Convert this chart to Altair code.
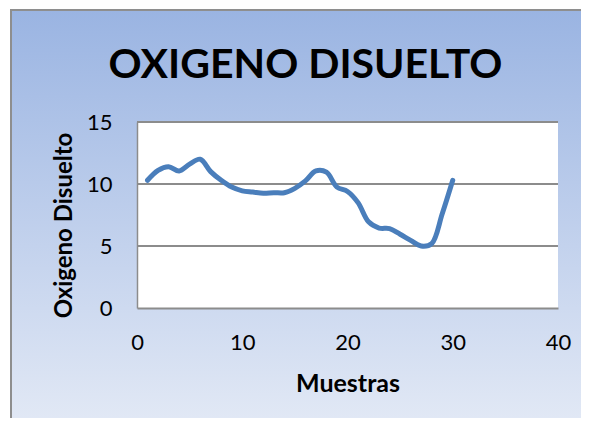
import altair as alt
import pandas as pd

muestras = list(range(1, 31))
oxigeno = [10.3, 11.1, 11.4, 11.05, 11.6, 12.0, 11.0, 10.3, 9.75, 9.45,
           9.35, 9.25, 9.3, 9.3, 9.65, 10.25, 11.05, 10.95, 9.75, 9.4,
           8.5, 6.95, 6.45, 6.4, 5.95, 5.45, 5.0, 5.2, 7.6, 10.3]
x_ticks = [0, 10, 20, 30, 40]
y_ticks = [0, 5, 10, 15]
grid_values = [5, 10, 15]

W, H = 421, 186
FONT = "Lato"
BORDER = "#8e8e8e"

df = pd.DataFrame({"Muestras": muestras, "Oxigeno": oxigeno})
grid_df = pd.DataFrame({"Oxigeno": grid_values})
one = pd.DataFrame({"a": [0]})

bg = alt.Chart(one).mark_rect(
    color=alt.Gradient(
        gradient="linear",
        stops=[alt.GradientStop(color="#9ab4e2", offset=0),
               alt.GradientStop(color="#e1e8f5", offset=1)],
        x1=0, x2=0, y1=0, y2=1),
).encode(x=alt.value(-126), x2=alt.value(444), y=alt.value(-112), y2=alt.value(296))

border_left = alt.Chart(one).mark_rule(color=BORDER, strokeWidth=2).encode(
    x=alt.value(-126), y=alt.value(-113), y2=alt.value(296))
border_top = alt.Chart(one).mark_rule(color=BORDER, strokeWidth=2).encode(
    x=alt.value(-127), x2=alt.value(444), y=alt.value(-112))

white = alt.Chart(one).mark_rect(color="white").encode(
    x=alt.value(0), x2=alt.value(W), y=alt.value(0), y2=alt.value(H))

grid = alt.Chart(grid_df).mark_rule(color="#8c8c8c", strokeWidth=2).encode(
    y=alt.Y("Oxigeno:Q"))

line = alt.Chart(df).mark_line(
    color="#4a7ebb", strokeWidth=5, interpolate="catmull-rom",
    strokeCap="round", strokeJoin="round",
).encode(
    x=alt.X("Muestras:Q",
            scale=alt.Scale(domain=[0, 40], nice=False),
            axis=alt.Axis(values=x_ticks, grid=False, ticks=False, zindex=1,
                          domainColor="#8c8c8c", domainWidth=2,
                          labelFont=FONT, labelFontSize=22, labelColor="black",
                          labelPadding=24, labelFlush=False,
                          title="Muestras", titleFont=FONT, titleFontSize=25,
                          titleFontWeight="bold", titleColor="black",
                          titleY=75, titleBaseline="middle")),
    y=alt.Y("Oxigeno:Q",
            scale=alt.Scale(domain=[0, 15], nice=False),
            axis=alt.Axis(values=y_ticks, grid=False, ticks=False, zindex=1,
                          domainColor="#8c8c8c", domainWidth=1.5,
                          labelFont=FONT, labelFontSize=22, labelColor="black",
                          labelPadding=25,
                          title="Oxigeno Disuelto", titleFont=FONT, titleFontSize=24,
                          titleFontWeight="bold", titleColor="black",
                          titleX=-73, titleY=103, titleAngle=270,
                          titleAlign="center", titleBaseline="middle")),
)

chart = alt.layer(bg, border_left, border_top, white, grid, line).properties(
    width=W, height=H,
    title=alt.TitleParams("OXIGENO DISUELTO", font=FONT, fontSize=41,
                          fontWeight="bold", color="black", anchor="middle",
                          dx=-42, dy=44, offset=-67, baseline="alphabetic", frame="group"),
    autosize=alt.AutoSizeParams(type="none"),
    padding={"left": 129, "top": 114, "right": 24, "bottom": 111},
).configure_view(stroke=None).configure(background="white")

chart.save("out.html", embed_options={"renderer": "svg", "actions": False})
